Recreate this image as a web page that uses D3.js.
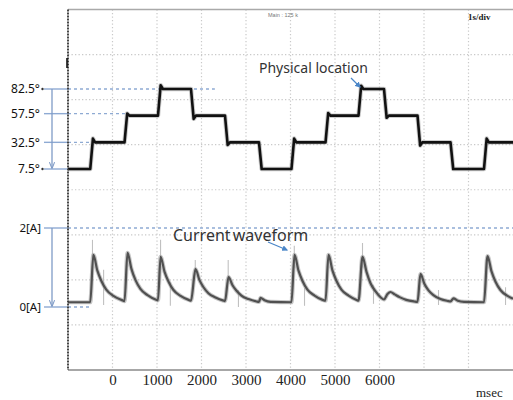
<!DOCTYPE html>
<html>
<head>
<meta charset="utf-8">
<script src="https://cdn.jsdelivr.net/npm/d3@7"></script>
<style>
  html, body { margin: 0; padding: 0; background: #fff; }
  svg { display: block; }
</style>
</head>
<body>
<svg id="chart" width="513" height="400"></svg>
<script>
// ---- data -------------------------------------------------------------
// time axis (ms), one grid division per second
const timeTicks = [0, 1000, 2000, 3000, 4000, 5000, 6000];
const gridTimes = [0, 1000, 2000, 3000, 4000, 5000, 6000, 7000, 8000];

// physical location (deg): plateau levels and switching instants (ms)
const posLevels = [7.5, 32.5, 57.5, 82.5, 57.5, 32.5, 7.5, 32.5, 57.5, 82.5, 57.5, 32.5, 7.5, 32.5];
const posEdges = [-500, 270, 1022, 1764, 2528, 3292, 4022, 4787, 5528, 6101, 6854, 7596, 8348];
// ringing right after each switch (deg, relative to the new plateau)
const posRinging = [3.5, 2, 3.5, -3, -2.5, 0, 3.5, 2.5, 3, -2, -3, 0, 3.5];
const degreeLabels = [82.5, 57.5, 32.5, 7.5];

// current waveform samples: [ms, A]
const currentTrace = [
  [-1000, 0.12], [-500, 0.12], [-430, 1.32], [-340, 0.92], [-250, 0.66], [-140, 0.44], [20, 0.28], [200, 0.18], [270, 0.15],
  [337, 1.37], [427, 0.96], [517, 0.68], [627, 0.46], [787, 0.30], [967, 0.19], [1022, 0.17],
  [1080, 1.27], [1170, 0.89], [1260, 0.64], [1370, 0.43], [1530, 0.28], [1710, 0.18], [1764, 0.16],
  [1865, 0.96], [1955, 0.68], [2045, 0.50], [2155, 0.35], [2315, 0.24], [2495, 0.16], [2528, 0.15],
  [2607, 0.76], [2697, 0.55], [2787, 0.41], [2897, 0.29], [3057, 0.20], [3237, 0.14], [3292, 0.13],
  [3326, 0.23], [3416, 0.17], [3550, 0.13], [4022, 0.12],
  [4090, 1.32], [4180, 0.92], [4270, 0.66], [4380, 0.44], [4540, 0.29], [4720, 0.18], [4787, 0.16],
  [4854, 1.32], [4944, 0.92], [5034, 0.66], [5144, 0.44], [5304, 0.29], [5484, 0.18], [5528, 0.16],
  [5618, 1.27], [5708, 0.89], [5798, 0.60], [5908, 0.40], [6030, 0.24], [6101, 0.19],
  [6180, 0.33], [6247, 0.38], [6340, 0.32], [6450, 0.25], [6600, 0.18], [6780, 0.14], [6854, 0.13],
  [6921, 0.84], [7011, 0.58], [7101, 0.42], [7211, 0.30], [7371, 0.20], [7550, 0.15], [7596, 0.14],
  [7663, 0.22], [7760, 0.16], [7900, 0.13], [8348, 0.12],
  [8427, 1.29], [8517, 0.90], [8607, 0.64], [8717, 0.43], [8877, 0.28], [9000, 0.21]
];
// isolated switching glitches on the current probe: [ms, low A, high A]
const currentGlitches = [
  [-450, 1.0, 1.70], [-200, 0.05, 0.94], [1080, 1.0, 1.70], [1300, 0.03, 0.63],
  [1860, 0.8, 1.19], [2600, 0.6, 1.19], [2830, 0.0, 0.43], [4085, 1.0, 1.55],
  [4315, 0.03, 0.48], [5618, 1.0, 1.62], [5865, 0.08, 0.56], [7326, 0.05, 0.43], [8832, 0.05, 0.50]
];
const ampLabels = [2, 0];

// ---- scales -----------------------------------------------------------
const svg = d3.select("#chart");
const x = d3.scaleLinear().domain([-1000, 9000]).range([68, 513]);
const yDeg = d3.scaleLinear().domain([7.5, 82.5]).range([169, 89]);
const yAmp = d3.scaleLinear().domain([0, 2]).range([307, 228]);
const yDiv = d3.scaleLinear().domain([0, 8]).range([9.5, 370]);

const blue = "#8eaad3";
const gridColor = "#c9c9c9";

// ---- screen grid ------------------------------------------------------
const grid = svg.append("g");
grid.selectAll("line.v").data(gridTimes).join("line")
  .attr("x1", d => x(d)).attr("x2", d => x(d))
  .attr("y1", yDiv(0)).attr("y2", yDiv(8))
  .attr("stroke", gridColor).attr("stroke-width", 1.2)
  .attr("stroke-dasharray", "1.3,2.2");
grid.selectAll("line.h").data(d3.range(1, 8)).join("line")
  .attr("x1", x(-1000)).attr("x2", x(9000))
  .attr("y1", d => yDiv(d)).attr("y2", d => yDiv(d))
  .attr("stroke", gridColor).attr("stroke-width", 1.2)
  .attr("stroke-dasharray", "1.3,2.2");

// frame
svg.append("line").attr("x1", x(-1000)).attr("x2", x(9000))
  .attr("y1", yDiv(0)).attr("y2", yDiv(0))
  .attr("stroke", "#a9a9a9").attr("stroke-width", 1.6);
svg.append("line").attr("x1", x(-1000)).attr("x2", x(9000))
  .attr("y1", yDiv(8)).attr("y2", yDiv(8))
  .attr("stroke", "#8a8a8a").attr("stroke-width", 1.6);

// ---- reference levels -------------------------------------------------
const guideEnds = { 82.5: 2300, 57.5: 280, 32.5: -450, 7.5: -1000 };
const guides = svg.append("g");
degreeLabels.forEach(v => {
  const yy = yDeg(v) + (v === 57.5 ? -2 : 0);
  guides.append("line").attr("x1", 44).attr("x2", x(-1000))
    .attr("y1", yy).attr("y2", yy).attr("stroke", blue).attr("stroke-width", 1.4);
  guides.append("line").attr("x1", x(-1000)).attr("x2", x(guideEnds[v]))
    .attr("y1", yy).attr("y2", yy).attr("stroke", blue).attr("stroke-width", 1.4)
    .attr("stroke-dasharray", "3,3");
  if (v === 82.5 || v === 7.5) {
    guides.append("circle").attr("cx", 42.5).attr("cy", yy).attr("r", 1.2).attr("fill", "#333");
  }
  guides.append("text").attr("x", 40).attr("y", yy).attr("dy", "0.35em")
    .attr("text-anchor", "end").attr("font-family", "Noto Sans, sans-serif")
    .attr("font-size", 12).attr("fill", "#111").text(v + "°");
});
const ampEnds = { 2: 9000, 0: -500 };
ampLabels.forEach(v => {
  const yy = yAmp(v);
  guides.append("line").attr("x1", 44).attr("x2", x(-1000))
    .attr("y1", yy).attr("y2", yy).attr("stroke", blue).attr("stroke-width", 1.4);
  guides.append("line").attr("x1", x(-1000)).attr("x2", x(ampEnds[v]))
    .attr("y1", yy).attr("y2", yy).attr("stroke", blue).attr("stroke-width", 1.4)
    .attr("stroke-dasharray", "3,3");
  guides.append("text").attr("x", 41).attr("y", yy).attr("dy", "0.35em")
    .attr("text-anchor", "end").attr("font-family", "Noto Sans, sans-serif")
    .attr("font-size", 11.5).attr("fill", "#111").text(v + "[A]");
});

// span arrows
const defs = svg.append("defs");
defs.append("marker").attr("id", "spanHead").attr("viewBox", "0 0 10 10")
  .attr("refX", 9).attr("refY", 5).attr("markerWidth", 5).attr("markerHeight", 5)
  .attr("orient", "auto").append("path").attr("d", "M0,1 L10,5 L0,9")
  .attr("fill", "none").attr("stroke", "#7f9bc6").attr("stroke-width", 1.6);
defs.append("marker").attr("id", "noteHead").attr("viewBox", "0 0 10 10")
  .attr("refX", 8).attr("refY", 5).attr("markerWidth", 5).attr("markerHeight", 5)
  .attr("orient", "auto").append("path").attr("d", "M0,0 L10,5 L0,10 Z")
  .attr("fill", "#4a86c8");

[[yDeg(82.5), yDeg(7.5)], [yAmp(2), yAmp(0)]].forEach(([a, b]) => {
  svg.append("line").attr("x1", 52).attr("x2", 52).attr("y1", a).attr("y2", b - 1)
    .attr("stroke", "#7f9bc6").attr("stroke-width", 1.3)
    .attr("marker-end", "url(#spanHead)");
});

// ---- position trace ---------------------------------------------------
const ramp = 60, settle = 50;
const posPts = [[-1000, posLevels[0]]];
posEdges.forEach((t, i) => {
  posPts.push([t, posLevels[i]]);
  posPts.push([t + ramp, posLevels[i + 1] + posRinging[i]]);
  posPts.push([t + ramp + settle, posLevels[i + 1]]);
});
posPts.push([9000, posLevels[posLevels.length - 1]]);
const posLine = d3.line().x(d => x(d[0])).y(d => yDeg(d[1]));
svg.append("path").datum(posPts).attr("d", posLine)
  .attr("fill", "none").attr("stroke", "#9a9a9a").attr("stroke-width", 4.5)
  .attr("stroke-opacity", 0.5).attr("stroke-linejoin", "round");
svg.append("path").datum(posPts).attr("d", posLine)
  .attr("fill", "none").attr("stroke", "#111").attr("stroke-width", 2.6)
  .attr("stroke-linejoin", "round");

// ---- current trace ----------------------------------------------------
svg.selectAll("line.glitch").data(currentGlitches).join("line")
  .attr("x1", d => x(d[0])).attr("x2", d => x(d[0]))
  .attr("y1", d => yAmp(d[1])).attr("y2", d => yAmp(d[2]))
  .attr("stroke", "#c0c0c0").attr("stroke-width", 1.1);
const curLine = d3.line().x(d => x(d[0])).y(d => yAmp(d[1])).curve(d3.curveMonotoneX);
svg.append("path").datum(currentTrace).attr("d", curLine)
  .attr("fill", "none").attr("stroke", "#a0a0a0").attr("stroke-width", 4.2)
  .attr("stroke-opacity", 0.6);
svg.append("path").datum(currentTrace).attr("d", curLine)
  .attr("fill", "none").attr("stroke", "#505050").attr("stroke-width", 2.2);

// left frame edge (drawn over the traces)
svg.append("line").attr("x1", x(-1000)).attr("x2", x(-1000))
  .attr("y1", yDiv(0)).attr("y2", yDiv(8))
  .attr("stroke", "#333").attr("stroke-width", 1.8).attr("stroke-dasharray", "2,1");
svg.append("line").attr("x1", x(-1000) - 1).attr("x2", x(-1000) - 1)
  .attr("y1", 58).attr("y2", 68).attr("stroke", "#111").attr("stroke-width", 1.6);

// ---- axis labels ------------------------------------------------------
const xAxis = d3.axisBottom(x).tickValues(timeTicks).tickFormat(d3.format("d"))
  .tickSize(0).tickPadding(0);
const axisG = svg.append("g").attr("transform", `translate(0,${yDiv(8)})`).call(xAxis);
axisG.select(".domain").remove();
axisG.selectAll("text").attr("dy", 0).attr("y", 15)
  .attr("font-family", "Liberation Serif, serif").attr("font-size", 15).attr("fill", "#222");

svg.append("text").attr("x", 476).attr("y", 397)
  .attr("font-family", "Liberation Serif, serif").attr("font-size", 13).attr("fill", "#222")
  .text("msec");

// ---- scope header -----------------------------------------------------
svg.append("text").attr("x", 268).attr("y", 17)
  .attr("font-family", "Liberation Sans, sans-serif").attr("font-size", 5.5).attr("fill", "#777")
  .text("Main : 125 k");
svg.append("text").attr("x", 468).attr("y", 20)
  .attr("font-family", "Liberation Serif, serif").attr("font-size", 9).attr("font-weight", "bold")
  .attr("fill", "#222").text("1s/div");

// ---- annotations ------------------------------------------------------
svg.append("text").attr("x", 259).attr("y", 73)
  .attr("font-family", "Noto Sans, sans-serif").attr("font-size", 14).attr("fill", "#333")
  .text("Physical location");
svg.append("line").attr("x1", 351).attr("y1", 78).attr("x2", 360).attr("y2", 87)
  .attr("stroke", "#4a86c8").attr("stroke-width", 1.2).attr("marker-end", "url(#noteHead)");

svg.append("text").attr("x", 173).attr("y", 241)
  .attr("font-family", "Noto Sans, sans-serif").attr("font-size", 16).attr("fill", "#333")
  .attr("word-spacing", -2).text("Current waveform");
svg.append("line").attr("x1", 268).attr("y1", 242).attr("x2", 287).attr("y2", 250)
  .attr("stroke", "#4a86c8").attr("stroke-width", 1.2).attr("marker-end", "url(#noteHead)");
</script>
</body>
</html>
